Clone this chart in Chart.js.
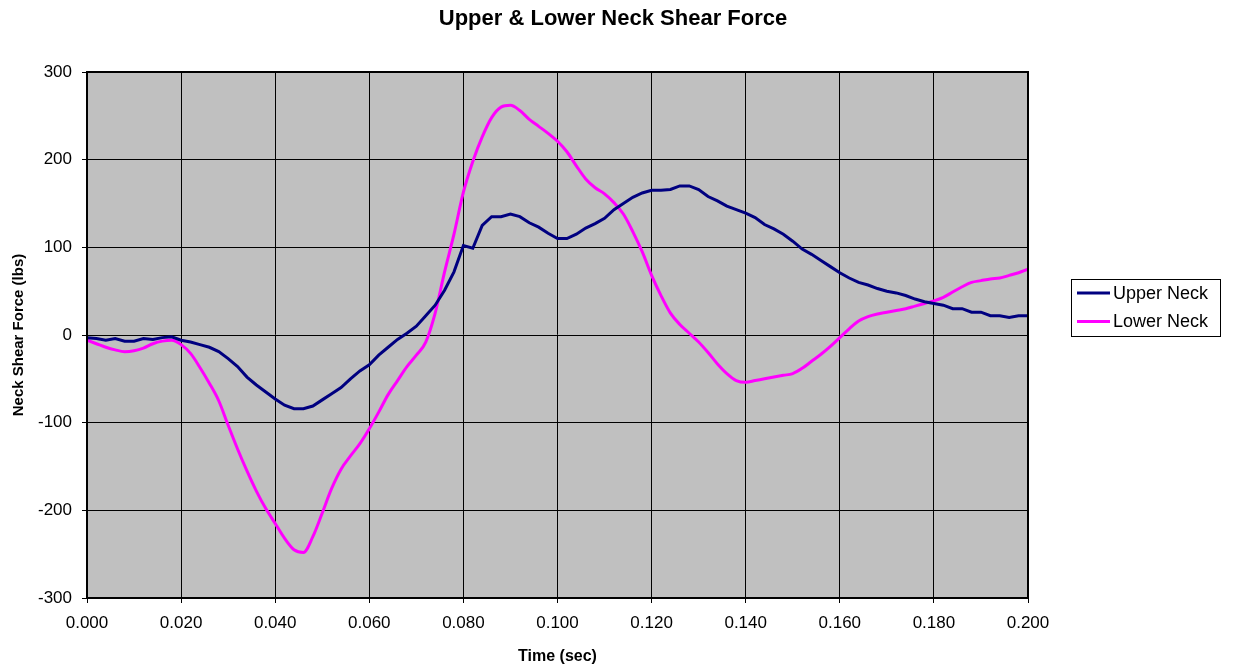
<!DOCTYPE html>
<html>
<head>
<meta charset="utf-8">
<title>Upper & Lower Neck Shear Force</title>
<script src="https://cdn.jsdelivr.net/npm/chart.js@4.4.0/dist/chart.umd.min.js"></script>
<style>
  html, body { margin: 0; padding: 0; background: #fff; }
  #wrap { width: 1233px; height: 670px; position: relative; }
</style>
</head>
<body>
<div id="wrap"><canvas id="shearChart"></canvas></div>
<script>
// sample times (sec), every 2 ms
const timeSec = [
  0.000, 0.002, 0.004, 0.006, 0.008, 0.010, 0.012, 0.014, 0.016, 0.018,
  0.020, 0.022, 0.024, 0.026, 0.028, 0.030, 0.032, 0.034, 0.036, 0.038,
  0.040, 0.042, 0.044, 0.046, 0.048, 0.050, 0.052, 0.054, 0.056, 0.058,
  0.060, 0.062, 0.064, 0.066, 0.068, 0.070, 0.072, 0.074, 0.076, 0.078,
  0.080, 0.082, 0.084, 0.086, 0.088, 0.090, 0.092, 0.094, 0.096, 0.098,
  0.100, 0.102, 0.104, 0.106, 0.108, 0.110, 0.112, 0.114, 0.116, 0.118,
  0.120, 0.122, 0.124, 0.126, 0.128, 0.130, 0.132, 0.134, 0.136, 0.138,
  0.140, 0.142, 0.144, 0.146, 0.148, 0.150, 0.152, 0.154, 0.156, 0.158,
  0.160, 0.162, 0.164, 0.166, 0.168, 0.170, 0.172, 0.174, 0.176, 0.178,
  0.180, 0.182, 0.184, 0.186, 0.188, 0.190, 0.192, 0.194, 0.196, 0.198,
  0.200
];

// Upper Neck shear force (lbs)
const upperNeck = [
  -3, -4, -6, -4, -7, -7, -4, -5, -3, -2,
  -6, -8, -11, -14, -19, -27, -36, -48, -57, -65,
  -73, -80, -84, -84, -81, -74, -67, -60, -50, -41,
  -34, -23, -14, -5, 2, 10, 22, 34, 51, 72,
  102, 99, 125, 135, 135, 138, 135, 128, 123, 116,
  110, 110, 115, 122, 127, 133, 143, 150, 157, 162,
  165, 165, 166, 170, 170, 166, 158, 153, 147, 143,
  139, 134, 126, 121, 115, 107, 98, 92, 85, 78,
  71, 65, 60, 57, 53, 50, 48, 45, 41, 38,
  36, 34, 30, 30, 26, 26, 22, 22, 20, 22,
  22
];

// Lower Neck shear force (lbs)
const lowerNeck = [
  -6, -10, -14, -17, -19, -18, -15, -10, -7, -6,
  -11, -21, -37, -55, -75, -103, -130, -155, -178, -198,
  -215, -232, -245, -248, -230, -203, -175, -153, -138, -124,
  -107, -88, -68, -52, -36, -23, -8, 25, 72, 115,
  163, 198, 226, 248, 260, 262, 256, 246, 238, 230,
  221, 209, 193, 178, 168, 161, 151, 138, 118, 95,
  68, 45, 25, 12, 2, -8, -20, -33, -44, -52,
  -54, -52, -50, -48, -46, -44, -38, -30, -22, -13,
  -3, 7, 16, 21, 24, 26, 28, 30, 33, 36,
  39, 43, 49, 55, 60, 62, 64, 65, 68, 71,
  75
];

const seriesNames = ['Upper Neck', 'Lower Neck'];
const seriesColors = ['#000080', '#FF00FF'];

const FONT = '"Liberation Sans", Arial, Helvetica, sans-serif';

function toPoints(values) {
  return values.map(function(v, i) { return {x: timeSec[i], y: v}; });
}

// background, plot frame, title and legend box
const chartDecor = {
  id: 'chartDecor',
  beforeDraw: function(chart) {
    const ctx = chart.ctx;
    const a = chart.chartArea;
    ctx.save();
    ctx.fillStyle = '#ffffff';
    ctx.fillRect(0, 0, chart.width, chart.height);
    ctx.fillStyle = '#c0c0c0';
    ctx.fillRect(a.left, a.top, a.right - a.left, a.bottom - a.top);
    ctx.restore();
  },
  afterDraw: function(chart) {
    const ctx = chart.ctx;
    const a = chart.chartArea;
    ctx.save();
    ctx.strokeStyle = '#000';
    ctx.lineWidth = 2;
    ctx.strokeRect(a.left, a.top, a.right - a.left, a.bottom - a.top);

    ctx.fillStyle = '#000';
    ctx.font = 'bold 22px ' + FONT;
    ctx.textAlign = 'center';
    ctx.textBaseline = 'middle';
    ctx.fillText('Upper & Lower Neck Shear Force', 613, 19);

    // legend
    ctx.fillStyle = '#fff';
    ctx.fillRect(1071.5, 279.5, 149, 57);
    ctx.lineWidth = 1;
    ctx.strokeStyle = '#000';
    ctx.strokeRect(1071.5, 279.5, 149, 57);
    ctx.font = '18px ' + FONT;
    ctx.textAlign = 'left';
    chart.data.datasets.forEach(function(ds, i) {
      const y = 293 + i * 28.5;
      ctx.strokeStyle = ds.borderColor;
      ctx.lineWidth = 3;
      ctx.beginPath();
      ctx.moveTo(1077, y);
      ctx.lineTo(1110, y);
      ctx.stroke();
      ctx.fillStyle = '#000';
      ctx.fillText(ds.label, 1113, y + 1);
    });
    ctx.restore();
  }
};

const ctx = document.getElementById('shearChart').getContext('2d');
const chart = new Chart(ctx, {
  type: 'line',
  data: {
    datasets: [{
      label: seriesNames[0],
      data: toPoints(upperNeck),
      borderColor: seriesColors[0],
      borderWidth: 3,
      pointRadius: 0,
      tension: 0
    }, {
      label: seriesNames[1],
      data: toPoints(lowerNeck),
      borderColor: seriesColors[1],
      borderWidth: 3,
      pointRadius: 0,
      cubicInterpolationMode: 'monotone'
    }]
  },
  options: {
    responsive: true,
    maintainAspectRatio: false,
    animation: false,
    layout: { padding: { top: 72, right: 205, left: 0, bottom: 0 } },
    plugins: {
      legend: { display: false },
      title: { display: false },
      tooltip: { enabled: false }
    },
    scales: {
      x: {
        type: 'linear',
        min: 0,
        max: 0.2,
        afterFit: function(scale) { scale.height = 72; },
        ticks: {
          stepSize: 0.02,
          color: '#000',
          padding: 10,
          maxRotation: 0,
          font: { family: FONT, size: 17 },
          callback: function(v) { return Number(v).toFixed(3); }
        },
        grid: { color: '#000', lineWidth: 1, tickLength: 5 },
        border: { color: '#000', width: 2 },
        title: {
          display: true,
          text: 'Time (sec)',
          color: '#000',
          padding: { top: 4, bottom: 4 },
          font: { family: FONT, size: 16, weight: 'bold' }
        }
      },
      y: {
        min: -300,
        max: 300,
        afterFit: function(scale) { scale.width = 87; },
        ticks: {
          stepSize: 100,
          color: '#000',
          padding: 10,
          font: { family: FONT, size: 17 }
        },
        grid: { color: '#000', lineWidth: 1, tickLength: 5 },
        border: { color: '#000', width: 2 },
        title: {
          display: true,
          text: 'Neck Shear Force (lbs)',
          color: '#000',
          padding: { top: 10, bottom: 4 },
          font: { family: FONT, size: 15, weight: 'bold' }
        }
      }
    }
  },
  plugins: [chartDecor]
});
</script>
</body>
</html>
